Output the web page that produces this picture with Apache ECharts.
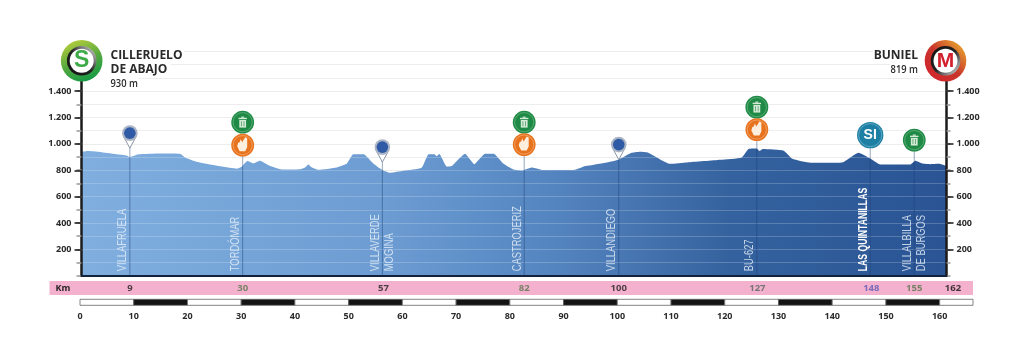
<!DOCTYPE html>
<html>
<head>
<meta charset="utf-8">
<style>html,body{margin:0;padding:0;background:#fff}#chart{width:1024px;height:364px}</style>
<script src="https://cdn.jsdelivr.net/npm/echarts@6/dist/echarts.min.js"></script>
</head>
<body>
<div id="chart"></div>
<script>
// perfil de la etapa: km / altitud
var profileKm = [0, 1.3, 4, 8.4, 9, 10.6, 14.6, 18.3, 19.3, 21.4, 24.5, 28.3, 28.9, 29.8, 30.9, 32, 33.2, 35.1, 37.3, 40.7, 41.6, 42.2, 42.9, 44.1, 47.5, 49.4, 50.6, 52.5, 54.3, 56, 57.4, 59.9, 63.3, 64.6, 65.7, 66.1, 66.6, 68, 68.9, 71.4, 73.1, 75.1, 76.7, 78.5, 80.4, 82, 83.8, 86, 91.6, 93.8, 97.8, 100, 102.1, 104, 105.5, 107.7, 109.6, 112.7, 118.9, 122.9, 124.2, 125.7, 126.2, 126.8, 130.7, 132.3, 135.7, 141.6, 144.6, 146.8, 148.7, 154.3, 155.2, 156.5, 158, 159.6, 161];
var profileElev = [939, 945, 935, 912, 899, 920, 927, 925, 897, 864, 839, 814, 811, 826, 869, 851, 871, 831, 806, 808, 821, 844, 821, 803, 821, 851, 920, 920, 851, 801, 780, 795, 818, 920, 920, 905, 922, 826, 831, 925, 846, 925, 925, 851, 806, 798, 821, 801, 801, 831, 859, 882, 927, 939, 932, 882, 848, 859, 879, 897, 962, 965, 945, 960, 947, 886, 856, 859, 932, 889, 844, 844, 871, 851, 846, 848, 831];

var yLabelTicks = [200, 400, 600, 800, 1000, 1200, 1400];

// pasos de la etapa
var placeKm = [9, 30, 56, 82.4, 100, 125.7, 146.8, 155];
var placeNames = [['VILLAFRUELA'], ['TORDÓMAR'], ['VILLAVERDE', 'MOGINA'], ['CASTROJERIZ'], ['VILLANDIEGO'], ['BU-627'], ['LAS QUINTANILLAS'], ['VILLALBILLA', 'DE BURGOS']];
var placeIcons = [['pin'], ['trash', 'hand'], ['pin'], ['trash', 'hand'], ['pin'], ['trash', 'hand'], ['si'], ['trash']];
var placeIconElev = [[1081], [1164, 990], [975], [1164, 994], [994], [1278, 1108], [1066], [1028]];

// tira rosa de km
var stripLabels = ['9', '30', '57', '82', '100', '127', '148', '155', '162'];
var stripKm = [9, 30, 56.2, 82.4, 100, 125.8, 147, 155, 162.2];
var stripColors = ['#222', '#56764c', '#222', '#56764c', '#222', '#56665e', '#5a5ab4', '#56764c', '#111'];

// escala inferior
var scaleStops = [0, 10, 20, 30, 40, 50, 60, 70, 80, 90, 100, 110, 120, 130, 140, 150, 160, 166.2];

var font = '"Open Sans", sans-serif';
var sans = '"Liberation Sans", sans-serif';

function trashIcon(x, y) {
	var c = '#d6ead8';
	return [
		{type: 'rect', shape: {x: x - 4.2, y: y - 4.4, width: 8.4, height: 1.4}, style: {fill: c}},
		{type: 'rect', shape: {x: x - 1.5, y: y - 5.6, width: 3, height: 1.2}, style: {fill: c}},
		{type: 'rect', shape: {x: x - 3.4, y: y - 2.2, width: 6.8, height: 7.6}, style: {fill: c}},
		{type: 'rect', shape: {x: x - 1.7, y: y - 1, width: 0.8, height: 5}, style: {fill: '#4f9f68'}},
		{type: 'rect', shape: {x: x + 0.9, y: y - 1, width: 0.8, height: 5}, style: {fill: '#4f9f68'}}
	];
}

function handIcon(x, y) {
	return [{
		type: 'polygon',
		shape: {points: [[x - 2, y - 6], [x - 0.5, y - 3], [x + 2.5, y - 8], [x + 4.5, y - 7], [x + 4.5, y + 2], [x + 2.5, y + 6], [x - 3, y + 6], [x - 5.5, y + 1], [x - 4.5, y - 2.5], [x - 3, y - 3]]},
		style: {fill: '#fdeede'}
	}];
}

function iconShapes(kind, x, y) {
	if (kind == 'pin') {
		return [
			{type: 'polygon', shape: {points: [[x - 6.5, y + 3], [x + 6.5, y + 3], [x, y + 15]]}, style: {fill: '#fff', stroke: '#8b97a8', lineWidth: 1}},
			{type: 'circle', shape: {cx: x, cy: y, r: 7.8}, style: {fill: '#aab4c4'}},
			{type: 'circle', shape: {cx: x, cy: y, r: 5.8}, style: {fill: '#2f5aa6'}}
		];
	}
	if (kind == 'si') {
		return [
			{type: 'circle', shape: {cx: x, cy: y, r: 13.2}, style: {fill: '#1c7fa3'}},
			{type: 'circle', shape: {cx: x, cy: y, r: 11.6}, style: {fill: '#1c7fa3', stroke: '#8cc3d6', lineWidth: 0.6}},
			{type: 'text', x: x, y: y, style: {text: 'SI', fill: '#fff', font: 'bold 14px ' + sans, align: 'center', verticalAlign: 'middle'}}
		];
	}
	var color = kind == 'trash' ? '#1f8a45' : '#e8731e';
	var list = [
		{type: 'circle', shape: {cx: x, cy: y, r: 11.4}, style: {fill: color}},
		{type: 'circle', shape: {cx: x, cy: y, r: 9.6}, style: {fill: color, stroke: kind == 'trash' ? '#7cc093' : '#f7b988', lineWidth: 0.6}}
	];
	return list.concat(kind == 'trash' ? trashIcon(x, y) : handIcon(x, y));
}

function renderPlace(params, api) {
	var i = api.value(1);
	var km = api.value(0);
	var base = api.coord([km, 0]);
	var x = base[0];
	var elevs = placeIconElev[i];
	var lowest = api.coord([km, elevs[elevs.length - 1]]);
	var children = [{
		type: 'line',
		shape: {x1: x, y1: base[1], x2: x, y2: lowest[1]},
		style: {stroke: 'rgba(25,60,115,0.45)', lineWidth: 1}
	}];
	var names = placeNames[i];
	names.forEach(function (name, n) {
		var bold = name == 'LAS QUINTANILLAS';
		children.push({
			type: 'text',
			x: x + (n == 0 ? -7 : 7),
			y: base[1] - 4.5,
			rotation: Math.PI / 2,
			scaleX: bold ? 0.72 : 0.78,
			style: {
				text: name,
				fill: bold ? '#fff' : 'rgba(232,241,250,0.8)',
				font: (bold ? 'bold ' : '') + '12px ' + sans,
				align: 'left',
				verticalAlign: 'middle'
			}
		});
	});
	placeIcons[i].forEach(function (kind, n) {
		var p = api.coord([km, elevs[n]]);
		children = children.concat(iconShapes(kind, x, p[1]));
	});
	return {type: 'group', children: children};
}

function renderScale(params, api) {
	var i = params.dataIndex;
	var a = api.coord([scaleStops[i], 0]);
	var b = api.coord([scaleStops[i + 1], 0]);
	var h = api.size([0, 1])[1];
	return {
		type: 'rect',
		shape: {x: a[0], y: a[1] - h, width: b[0] - a[0], height: h},
		style: {fill: i % 2 ? '#141414' : '#fff', stroke: '#666', lineWidth: 0.8}
	};
}

var placeData = placeKm.map(function (km, i) { return [km, i]; });
var scaleData = scaleStops.slice(0, -1).map(function (km, i) { return [km, i]; });
var stripData = stripKm.map(function (km, i) {
	return {
		value: [km, 0.5],
		label: {formatter: stripLabels[i], color: stripColors[i]}
	};
});

function hiddenX(extra) {
	return Object.assign({type: 'value', min: 0, max: 161, show: false}, extra);
}

function fmtElev(v) {
	return yLabelTicks.indexOf(v) < 0 ? '' : (v >= 1000 ? String(v).replace(/(\d)(\d{3})$/, '$1.$2') : String(v));
}

var splitAxis = {type: 'value', min: 0, max: 1700, interval: 100, axisLabel: {show: false}};
var labelAxis = {
	type: 'value', gridIndex: 1, min: 200, max: 1400, interval: 200, z: 6,
	axisLine: {show: false},
	axisTick: {length: 7, lineStyle: {color: '#1a1a1a', width: 1.5}},
	splitLine: {show: false},
	axisLabel: {margin: 10, fontSize: 9, fontWeight: 'bold', fontFamily: font, color: '#2a2a2a', formatter: fmtElev}
};

var option = {
	animation: false,
	backgroundColor: '#fff',
	grid: [
		{left: 81.5, right: 77.5, top: 51.5, height: 224.2},
		{left: 81.5, right: 77.5, top: 91.2, height: 158.1},
		{left: 81.5, right: 77.5, top: 281, height: 14},
		{left: 80, right: 51, top: 299.3, height: 6}
	],
	xAxis: [
		{type: 'value', gridIndex: 0, min: 0, max: 161, z: 6, splitLine: {show: false}, axisTick: {show: false}, axisLabel: {show: false},
			axisLine: {onZero: false, lineStyle: {color: '#14213a', width: 2}}},
		hiddenX({gridIndex: 1}),
		hiddenX({gridIndex: 2}),
		{type: 'value', gridIndex: 3, min: 0, max: 166.2, interval: 10, splitLine: {show: false}, axisTick: {show: false},
			axisLine: {show: false},
			axisLabel: {margin: 7, fontSize: 9, fontWeight: 'bold', fontFamily: font, color: '#2a2a2a', showMaxLabel: false}}
	],
	yAxis: [
		// lineas grises, debajo del perfil
		Object.assign({}, splitAxis, {gridIndex: 0, position: 'left', z: 1, axisLine: {show: false}, axisTick: {show: false},
			splitLine: {lineStyle: {color: '#e9e9e9', width: 1.2}}}),
		// lineas claras encima del perfil + eje derecho
		Object.assign({}, splitAxis, {gridIndex: 0, position: 'right', z: 5,
			axisLine: {show: true, lineStyle: {color: '#1a1a1a', width: 2.5}},
			axisTick: {length: 4, lineStyle: {color: '#999', width: 1.5}},
			splitLine: {lineStyle: {color: 'rgba(255,255,255,0.2)', width: 1}}}),
		Object.assign({}, splitAxis, {gridIndex: 0, position: 'left', z: 5,
			axisLine: {show: true, lineStyle: {color: '#1a1a1a', width: 2.5}},
			axisTick: {length: 5, lineStyle: {color: '#999', width: 1.5}},
			splitLine: {show: false}}),
		// ejes con etiquetas
		Object.assign({}, labelAxis, {position: 'left'}),
		Object.assign({}, labelAxis, {position: 'right'}),
		{type: 'value', gridIndex: 2, min: 0, max: 1, show: false},
		{type: 'value', gridIndex: 3, min: 0, max: 1, show: false}
	],
	series: [
		{
			type: 'line',
			xAxisIndex: 0,
			yAxisIndex: 0,
			z: 2,
			showSymbol: false,
			smooth: 0.15,
			lineStyle: {width: 0},
			areaStyle: {
				opacity: 1,
				color: new echarts.graphic.LinearGradient(0, 0, 1, 0, [
					{offset: 0, color: '#80aedf'},
					{offset: 0.35, color: '#6c9cd2'},
					{offset: 0.55, color: '#5484bf'},
					{offset: 0.75, color: '#34629f'},
					{offset: 1, color: '#2a5494'}
				])
			},
			data: profileKm.map(function (km, i) { return [km, profileElev[i]]; })
		},
		{
			type: 'custom',
			xAxisIndex: 0,
			yAxisIndex: 0,
			z: 7,
			clip: false,
			renderItem: renderPlace,
			encode: {x: 0, y: -1},
			data: placeData
		},
		{
			type: 'scatter',
			xAxisIndex: 2,
			yAxisIndex: 5,
			z: 8,
			clip: false,
			symbolSize: 0,
			label: {show: true, position: 'inside', fontSize: 9.5, fontWeight: 'bold', fontFamily: font},
			data: stripData
		},
		{
			type: 'custom',
			xAxisIndex: 3,
			yAxisIndex: 6,
			renderItem: renderScale,
			encode: {x: 0, y: -1},
			data: scaleData
		}
	],
	graphic: [
		{type: 'rect', z: -1, shape: {x: 49.5, y: 281, width: 923.5, height: 14}, style: {fill: '#f4b1ce'}},
		{type: 'text', z: 50, x: 55.5, y: 288, style: {text: 'Km', fill: '#222', font: 'bold 9px ' + font, align: 'left', verticalAlign: 'middle'}},

		// las rayas grises no pasan por detras de los nombres
		{type: 'rect', z: 3, shape: {x: 84, y: 48, width: 100, height: 10}, style: {fill: '#fff'}},
		{type: 'rect', z: 3, shape: {x: 84, y: 61, width: 87, height: 11}, style: {fill: '#fff'}},
		{type: 'rect', z: 3, shape: {x: 84, y: 75, width: 55, height: 9}, style: {fill: '#fff'}},
		{type: 'rect', z: 3, shape: {x: 873, y: 48, width: 70, height: 10}, style: {fill: '#fff'}},
		{type: 'rect', z: 3, shape: {x: 890, y: 61, width: 53, height: 11}, style: {fill: '#fff'}},

		{type: 'circle', z: 50, shape: {cx: 81.7, cy: 60.7, r: 20.8}, style: {fill: new echarts.graphic.LinearGradient(0.2, 0, 0.6, 1, [{offset: 0, color: '#b9cf3c'}, {offset: 0.55, color: '#55a83f'}, {offset: 1, color: '#169a45'}])}},
		{type: 'circle', z: 51, shape: {cx: 81.7, cy: 60.7, r: 14.8}, style: {fill: new echarts.graphic.LinearGradient(1, 0, 0, 1, [{offset: 0, color: '#e8e8e8'}, {offset: 0.5, color: '#222'}, {offset: 1, color: '#111'}])}},
		{type: 'circle', z: 52, shape: {cx: 81.7, cy: 60.7, r: 12}, style: {fill: '#fff'}},
		{type: 'text', z: 53, x: 81.7, y: 61, style: {text: 'S', fill: '#3eaa48', font: 'bold 23px ' + sans, align: 'center', verticalAlign: 'middle'}},

		{type: 'circle', z: 50, shape: {cx: 945.5, cy: 60.7, r: 20.8}, style: {fill: new echarts.graphic.LinearGradient(0, 1, 1, 0, [{offset: 0, color: '#d3202e'}, {offset: 0.5, color: '#c9362c'}, {offset: 1, color: '#efc02f'}])}},
		{type: 'circle', z: 51, shape: {cx: 945.5, cy: 60.7, r: 14.8}, style: {fill: new echarts.graphic.LinearGradient(1, 1, 0, 0, [{offset: 0, color: '#e8e8e8'}, {offset: 0.5, color: '#222'}, {offset: 1, color: '#111'}])}},
		{type: 'circle', z: 52, shape: {cx: 945.5, cy: 60.7, r: 12}, style: {fill: '#fff'}},
		{type: 'text', z: 53, x: 945.5, y: 61, style: {text: 'M', fill: '#d3202e', font: 'bold 21px ' + sans, align: 'center', verticalAlign: 'middle'}},

		{type: 'text', z: 50, x: 110.5, y: 56, style: {text: 'CILLERUELO', fill: '#2a2a2a', font: 'bold 12px ' + font, align: 'left', verticalAlign: 'middle'}},
		{type: 'text', z: 50, x: 110.5, y: 70, style: {text: 'DE ABAJO', fill: '#2a2a2a', font: 'bold 12px ' + font, align: 'left', verticalAlign: 'middle'}},
		{type: 'text', z: 50, x: 110.5, y: 84, scaleX: 0.85, style: {text: '930 m', fill: '#2a2a2a', font: '600 11px ' + font, align: 'left', verticalAlign: 'middle'}},
		{type: 'text', z: 50, x: 918, y: 56, style: {text: 'BUNIEL', fill: '#2a2a2a', font: 'bold 12px ' + font, align: 'right', verticalAlign: 'middle'}},
		{type: 'text', z: 50, x: 918, y: 70, scaleX: 0.85, style: {text: '819 m', fill: '#2a2a2a', font: '600 11px ' + font, align: 'right', verticalAlign: 'middle'}}
	]
};

var myChart = echarts.init(document.getElementById('chart'));
myChart.setOption(option);
</script>
</body>
</html>
